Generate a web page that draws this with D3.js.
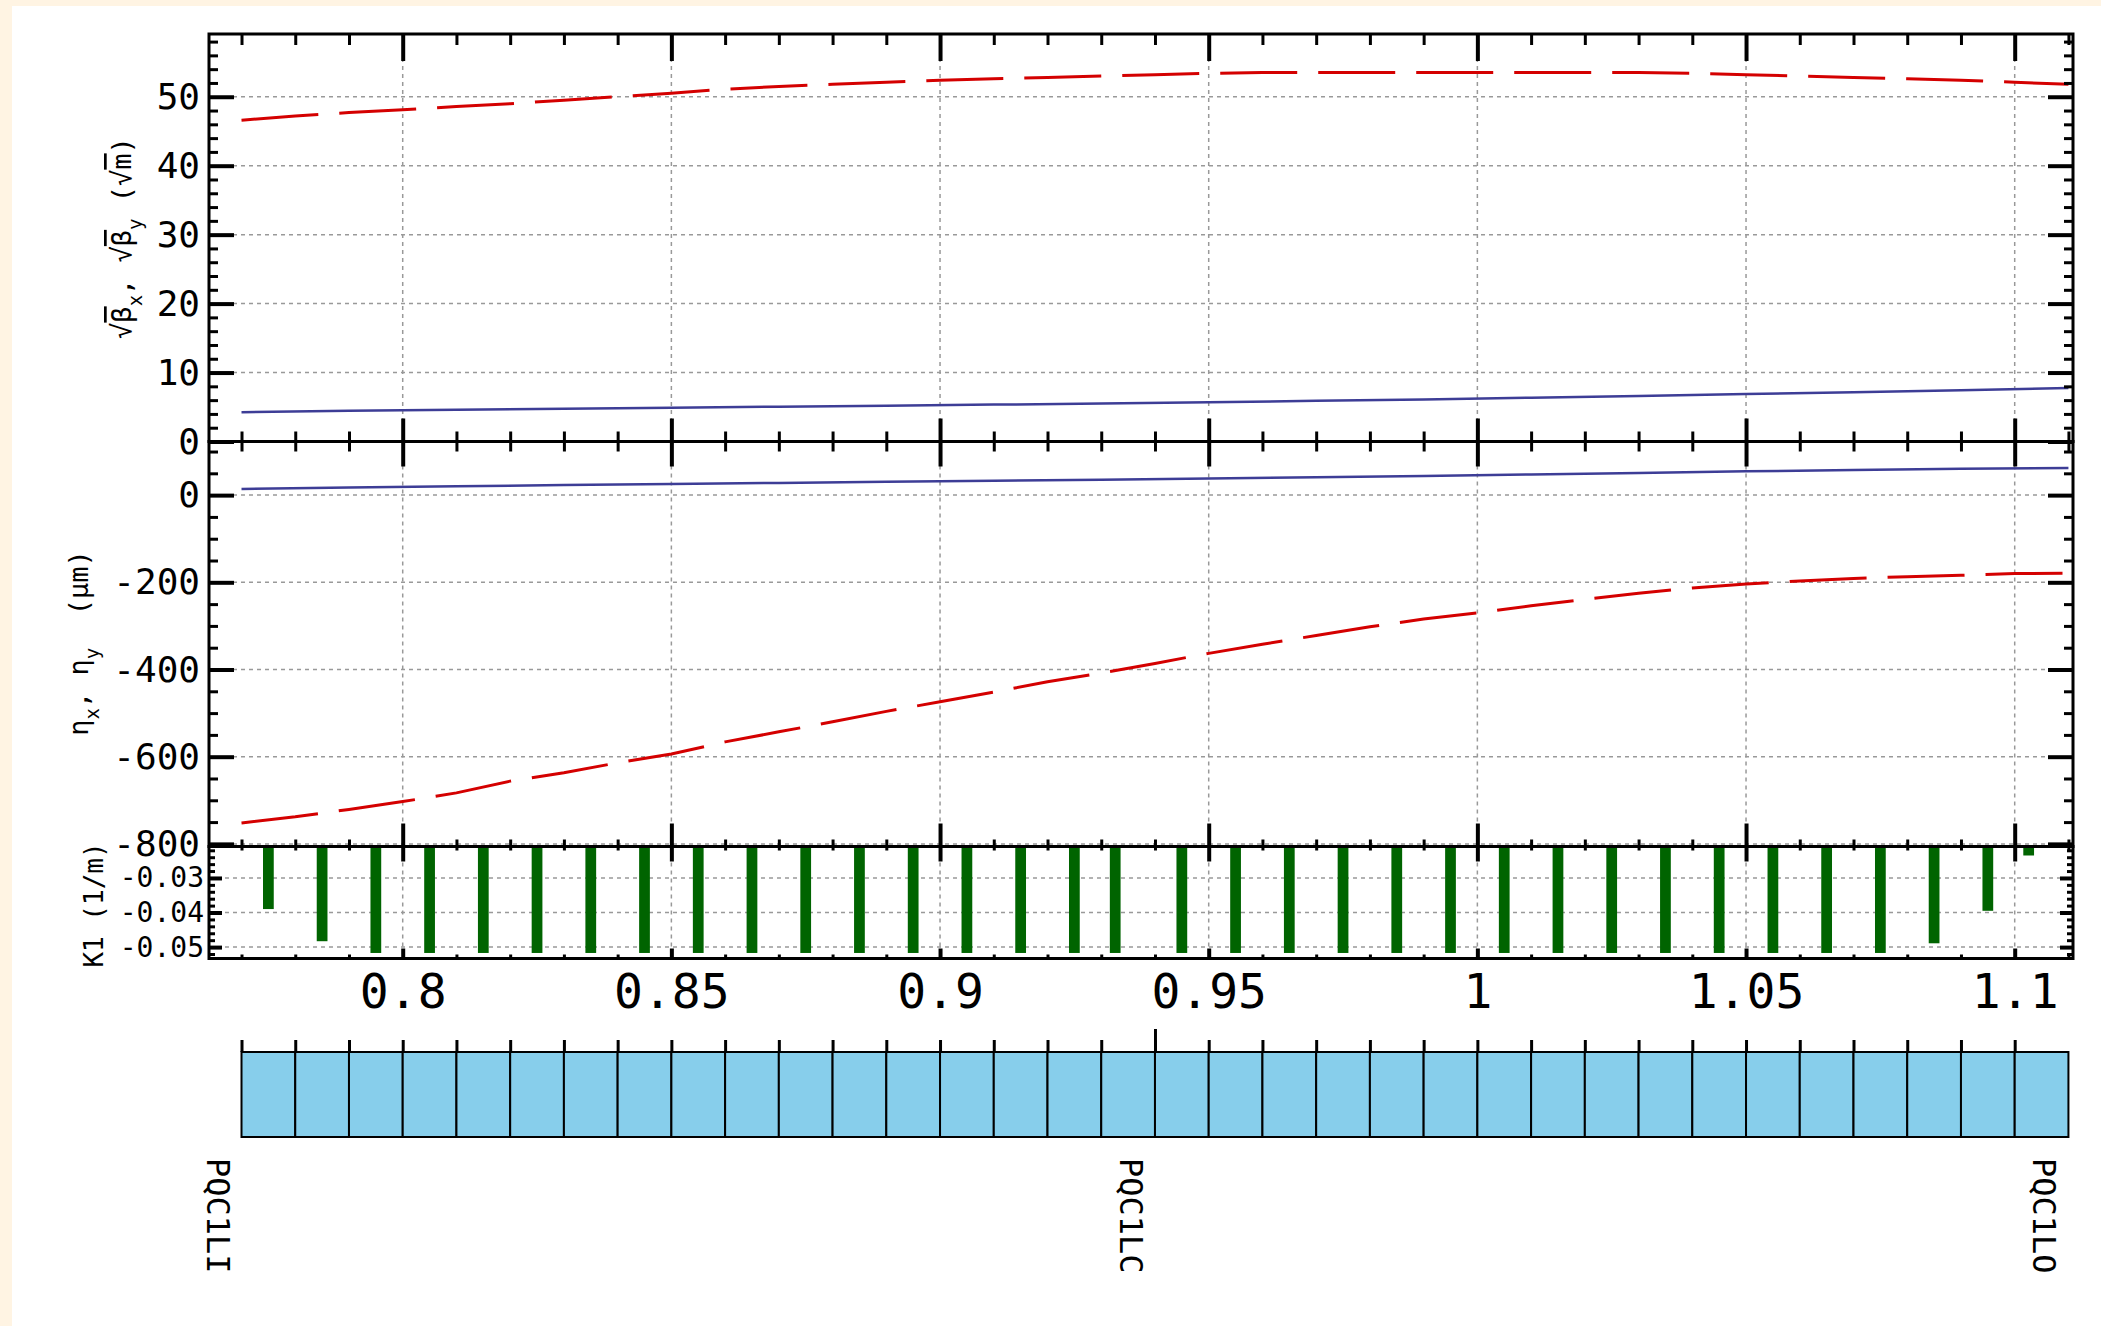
<!DOCTYPE html>
<html>
<head>
<meta charset="utf-8" />
<title>PQC1L optics</title>
<script src="https://d3js.org/d3.v7.min.js"></script>
<style>
  body { margin: 0; background: #fff4e3; }
  svg { display: block; font-family: 'DejaVu Sans Mono', monospace; }
</style>
</head>
<body>
<svg width="2101" height="1326"></svg>
<script>
// element layout (m)
const elemStart = [0.77, 0.78, 0.79, 0.80, 0.81, 0.82, 0.83, 0.84, 0.85, 0.86, 0.87, 0.88,
  0.89, 0.90, 0.91, 0.92, 0.93, 0.94, 0.95, 0.96, 0.97, 0.98, 0.99, 1.00, 1.01, 1.02,
  1.03, 1.04, 1.05, 1.06, 1.07, 1.08, 1.09, 1.10]
const elemEnd = 1.11
const labelPos = [0.77, 0.94, 1.11]
const labelNames = ['PQC1LI', 'PQC1LC', 'PQC1LO']
const centerMark = 0.94

// sqrt(beta_y), red dashed
const sBetaY = [0.77, 0.78, 0.79, 0.80, 0.81, 0.82, 0.83, 0.84, 0.85, 0.86, 0.87, 0.88,
  0.89, 0.90, 0.91, 0.92, 0.93, 0.94, 0.95, 0.96, 0.97, 0.98, 0.99, 1.00, 1.01, 1.02,
  1.03, 1.04, 1.05, 1.06, 1.07, 1.08, 1.09, 1.10, 1.11]
const sqrtBetaY = [46.6, 47.2, 47.7, 48.1, 48.6, 49.0, 49.5, 50.0, 50.5, 51.1, 51.5, 51.8,
  52.1, 52.4, 52.6, 52.8, 53.0, 53.2, 53.4, 53.5, 53.5, 53.5, 53.5, 53.5, 53.5, 53.5,
  53.5, 53.4, 53.2, 53.0, 52.8, 52.6, 52.4, 52.1, 51.8]

// sqrt(beta_x), blue solid
const sBetaX = [0.77, 0.79, 0.81, 0.83, 0.85, 0.87, 0.89, 0.91, 0.93, 0.95, 0.97, 0.99,
  1.01, 1.03, 1.05, 1.07, 1.09, 1.11]
const sqrtBetaX = [4.25, 4.45, 4.6, 4.75, 4.9, 5.05, 5.2, 5.35, 5.5, 5.7, 5.9, 6.1,
  6.35, 6.6, 6.9, 7.15, 7.45, 7.75]

// eta_x (um), blue solid
const sEtaX = [0.77, 0.79, 0.81, 0.83, 0.85, 0.87, 0.89, 0.91, 0.93, 0.95, 0.97, 0.99,
  1.01, 1.03, 1.05, 1.07, 1.09, 1.11]
const etaX = [14, 17.5, 20.5, 23, 25.5, 28, 30.5, 33, 35.5, 38, 41, 44,
  47.5, 51, 54.5, 57.5, 60.5, 62]

// eta_y (um), red dashed
const sEtaY = [0.77, 0.78, 0.79, 0.80, 0.81, 0.82, 0.83, 0.84, 0.85, 0.86, 0.87, 0.88,
  0.89, 0.90, 0.91, 0.92, 0.93, 0.94, 0.95, 0.96, 0.97, 0.98, 0.99, 1.00, 1.01, 1.02,
  1.03, 1.04, 1.05, 1.06, 1.07, 1.08, 1.09, 1.10, 1.11]
const etaY = [-752, -738, -721, -703, -683, -656, -637, -614, -594, -566, -543, -520,
  -496, -474, -452, -428, -408, -386, -363, -342, -322, -302, -284, -270, -254, -239,
  -225, -213, -204, -197, -191, -187, -184, -180, -179]

// quadrupole strength K1 (1/m)
const kS = [0.775, 0.785, 0.795, 0.805, 0.815, 0.825, 0.835, 0.845, 0.855, 0.865, 0.875,
  0.885, 0.895, 0.905, 0.915, 0.925, 0.9326, 0.945, 0.955, 0.965, 0.975, 0.985, 0.995,
  1.005, 1.015, 1.025, 1.035, 1.045, 1.055, 1.065, 1.075, 1.085, 1.095, 1.1026]
const k1 = [-0.0390, -0.0483, -0.0517, -0.0517, -0.0517, -0.0517, -0.0517, -0.0517,
  -0.0517, -0.0517, -0.0517, -0.0517, -0.0517, -0.0517, -0.0517, -0.0517, -0.0517,
  -0.0517, -0.0517, -0.0517, -0.0517, -0.0517, -0.0517, -0.0517, -0.0517, -0.0517,
  -0.0517, -0.0517, -0.0517, -0.0517, -0.0517, -0.0489, -0.0395, -0.0235]

// ticks
const xTicks = [0.8, 0.85, 0.9, 0.95, 1, 1.05, 1.1]
const betaTicks = [0, 10, 20, 30, 40, 50]
const etaTicks = [0, -200, -400, -600, -800]
const k1Ticks = [-0.03, -0.04, -0.05]

const svg = d3.select('svg')
svg.append('rect').attr('x', 12).attr('y', 6).attr('width', 2089).attr('height', 1320)
  .style('fill', 'white')

const L = 209, R = 2073
const x = d3.scaleLinear().domain([0.76395, 1.11085]).range([L, R])
const yB = d3.scaleLinear().domain([0, 59.1]).range([441.5, 34])
const yE = d3.scaleLinear().domain([-806, 123]).range([846.5, 441.5])
const yK = d3.scaleLinear().domain([-0.0533, -0.0209]).range([958.5, 846.5])

const xMinor = d3.range(0.77, 1.115, 0.01).map(v => +v.toFixed(2)).filter(v => !xTicks.includes(v))

const defs = svg.append('defs')
function clip(id, top, bottom) {
  defs.append('clipPath').attr('id', id).append('rect')
    .attr('x', L).attr('y', top).attr('width', R - L).attr('height', bottom - top)
}
clip('clipB', 34, 441.5)
clip('clipE', 441.5, 846.5)
clip('clipK', 846.5, 958.5)

// grid lines
function grid(y, top, bottom, yMajor) {
  svg.append('g').selectAll('line').data(xTicks).enter().append('line')
    .attr('x1', d => x(d)).attr('x2', d => x(d)).attr('y1', top).attr('y2', bottom)
    .style('stroke', '#999').style('stroke-width', '1.5px').style('stroke-dasharray', '4,4')
  svg.append('g').selectAll('line').data(yMajor).enter().append('line')
    .attr('x1', L).attr('x2', R).attr('y1', d => y(d)).attr('y2', d => y(d))
    .style('stroke', '#999').style('stroke-width', '1.5px').style('stroke-dasharray', '4,4')
}
grid(yB, 34, 441.5, betaTicks)
grid(yE, 441.5, 846.5, etaTicks)
grid(yK, 846.5, 958.5, k1Ticks)

// curves
function curve(sArr, vArr, y, clipId, color, width, dash) {
  const line = d3.line().x(d => x(d[0])).y(d => y(d[1]))
  svg.append('path')
    .datum(d3.zip(sArr, vArr))
    .attr('d', line)
    .attr('clip-path', 'url(#' + clipId + ')')
    .style('fill', 'none')
    .style('stroke', color)
    .style('stroke-width', width + 'px')
    .style('stroke-dasharray', dash)
}
curve(sBetaX, sqrtBetaX, yB, 'clipB', '#3d3d96', 2.5, null)
curve(sBetaY, sqrtBetaY, yB, 'clipB', '#d40000', 3, '77,21')
curve(sEtaX, etaX, yE, 'clipE', '#3d3d96', 2.5, null)
curve(sEtaY, etaY, yE, 'clipE', '#d40000', 3, '77,21')

// K1 bars
svg.append('g').attr('clip-path', 'url(#clipK)')
  .selectAll('rect').data(d3.zip(kS, k1)).enter().append('rect')
  .attr('x', d => x(d[0] - 0.001))
  .attr('width', d => x(d[0] + 0.001) - x(d[0] - 0.001))
  .attr('y', d => yK(0))
  .attr('height', d => yK(d[1]) - yK(0))
  .style('fill', '#006400')

// frames
;[[34, 441.5], [441.5, 846.5], [846.5, 958.5]].forEach(p => {
  svg.append('rect').attr('x', L).attr('y', p[0]).attr('width', R - L).attr('height', p[1] - p[0])
    .style('fill', 'none').style('stroke', 'black').style('stroke-width', '3px')
})

function ticks(axis, tx, ty, w) {
  return svg.append('g').attr('transform', `translate(${tx},${ty})`)
    .call(axis)
    .call(g => g.select('.domain').remove())
    .call(g => g.selectAll('.tick line').style('stroke', 'black').style('stroke-width', w + 'px'))
}

function panelTicks(y, top, bottom, yMajor, yMinor, s) {
  // x ticks on top and bottom edges, pointing inward
  ticks(d3.axisTop(x).tickValues(xTicks).tickSize(-s.topMaj).tickFormat(''), 0, top, 4)
  ticks(d3.axisTop(x).tickValues(xMinor).tickSize(-s.topMin).tickFormat(''), 0, top, 3)
  ticks(d3.axisBottom(x).tickValues(xTicks).tickSize(-s.botMaj).tickFormat(''), 0, bottom, 4)
  ticks(d3.axisBottom(x).tickValues(xMinor).tickSize(-s.botMin).tickFormat(''), 0, bottom, 3)
  // y ticks left and right
  ticks(d3.axisLeft(y).tickValues(yMajor).tickSize(-s.yMaj).tickPadding(s.pad).tickFormat(d => String(d)), L, 0, 4)
    .attr('font-family', 'DejaVu Sans Mono').attr('font-size', s.font)
    .selectAll('text').style('fill', 'black')
  ticks(d3.axisLeft(y).tickValues(yMinor).tickSize(-s.yMin).tickFormat(''), L, 0, 3)
  ticks(d3.axisRight(y).tickValues(yMajor).tickSize(-s.yMaj).tickFormat(''), R, 0, 4)
  ticks(d3.axisRight(y).tickValues(yMinor).tickSize(-s.yMin).tickFormat(''), R, 0, 3)
}

panelTicks(yB, 34, 441.5, betaTicks,
  d3.range(2, 59, 2).filter(v => v % 10 !== 0),
  { topMaj: 27, topMin: 11, botMaj: 23, botMin: 10, yMaj: 25, yMin: 9, pad: 9, font: 36 })
panelTicks(yE, 441.5, 846.5, etaTicks,
  d3.range(-750, 101, 50).filter(v => v % 200 !== 0),
  { topMaj: 25, topMin: 10, botMaj: 23, botMin: 7, yMaj: 25, yMin: 9, pad: 9, font: 36 })
panelTicks(yK, 846.5, 958.5, k1Ticks,
  [-0.052, -0.048, -0.046, -0.044, -0.042, -0.038, -0.036, -0.034, -0.032, -0.028, -0.026, -0.024, -0.022],
  { topMaj: 15, topMin: 4, botMaj: 10, botMin: 4, yMaj: 13, yMin: 6, pad: 5, font: 28 })

// x tick labels under the K1 panel
svg.append('g').attr('transform', 'translate(0,958.5)')
  .call(d3.axisBottom(x).tickValues(xTicks).tickSize(0).tickPadding(15).tickFormat(d => String(d)))
  .call(g => g.select('.domain').remove())
  .attr('font-family', 'DejaVu Sans Mono').attr('font-size', 48)

// axis titles
function title(tx, ty, size, parts) {
  const t = svg.append('text')
    .attr('transform', `translate(${tx},${ty}) rotate(-90)`)
    .attr('text-anchor', 'middle')
    .style('font-size', size + 'px')
    .style('white-space', 'pre')
  parts.forEach(p => {
    const sp = t.append('tspan').text(p[0])
    if (p[1] === 'sub') sp.attr('baseline-shift', 'sub').style('font-size', Math.round(size * 0.7) + 'px')
    if (p[1] === 'over') sp.style('text-decoration', 'overline')
  })
}
title(131, 238, 27, [['√'], ['β', 'over'], ['x', 'sub'], [', √'], ['β', 'over'], ['y', 'sub'], [' (√'], ['m', 'over'], [')']])
title(88, 643, 27, [['η'], ['x', 'sub'], [', η'], ['y', 'sub'], ['  (µm)']])
title(103, 905, 26, [['K1 (1/m)']])

// element boxes
const elemEnds = elemStart.slice(1).concat([elemEnd])
svg.append('g').selectAll('rect').data(d3.zip(elemStart, elemEnds)).enter().append('rect')
  .attr('x', d => x(d[0]))
  .attr('width', d => x(d[1]) - x(d[0]))
  .attr('y', 1052)
  .attr('height', 85)
  .style('fill', '#87ceeb')
  .style('stroke', 'black')
  .style('stroke-width', '2px')

ticks(d3.axisTop(x).tickValues(elemStart).tickSize(12).tickFormat(''), 0, 1052, 3)
ticks(d3.axisTop(x).tickValues([centerMark]).tickSize(23).tickFormat(''), 0, 1052, 3)

svg.append('g').selectAll('text').data(d3.zip(labelPos, labelNames)).enter().append('text')
  .attr('transform', d => `translate(${x(d[0]) - 35},1158) rotate(90)`)
  .style('font-size', '32px')
  .text(d => d[1])
</script>
</body>
</html>
